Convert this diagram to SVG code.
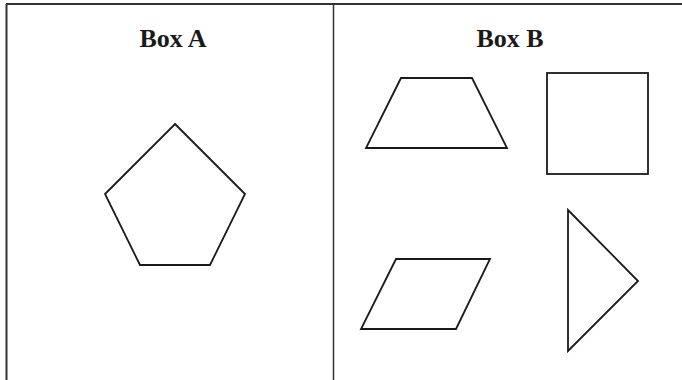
<svg xmlns="http://www.w3.org/2000/svg" width="682" height="380" viewBox="0 0 682 380">
<style>
.border{stroke:#333;stroke-width:2;fill:none}
.shape{stroke:#1a1a1a;stroke-width:1.8;fill:none;stroke-linejoin:miter}
.title{font-family:"Liberation Serif",serif;font-weight:bold;font-size:26px;fill:#1a1a1a;text-anchor:middle}
</style>
<rect width="682" height="380" fill="#fff"/>
<g id="table">
<line class="border" x1="6" y1="4" x2="682" y2="4"/>
<line class="border" x1="6.5" y1="4" x2="6.5" y2="380"/>
<line class="border" x1="333.5" y1="4" x2="333.5" y2="380" style="stroke-width:1.5"/>
</g>
<g id="boxA">
<text class="title" x="173" y="47">Box A</text>
<polygon id="pentagon" class="shape" points="175,124 245,194 210,265 140,265 105,194"/>
</g>
<g id="boxB">
<text class="title" x="510" y="47">Box B</text>
<polygon id="trapezoid" class="shape" points="401,78 472,78 507,148 366,148"/>
<rect id="square" class="shape" x="547" y="73" width="101" height="101"/>
<polygon id="parallelogram" class="shape" points="396,259 490,259 456,329 361,329"/>
<polygon id="triangle" class="shape" points="568,210 638,281 568,351"/>
</g>
</svg>
